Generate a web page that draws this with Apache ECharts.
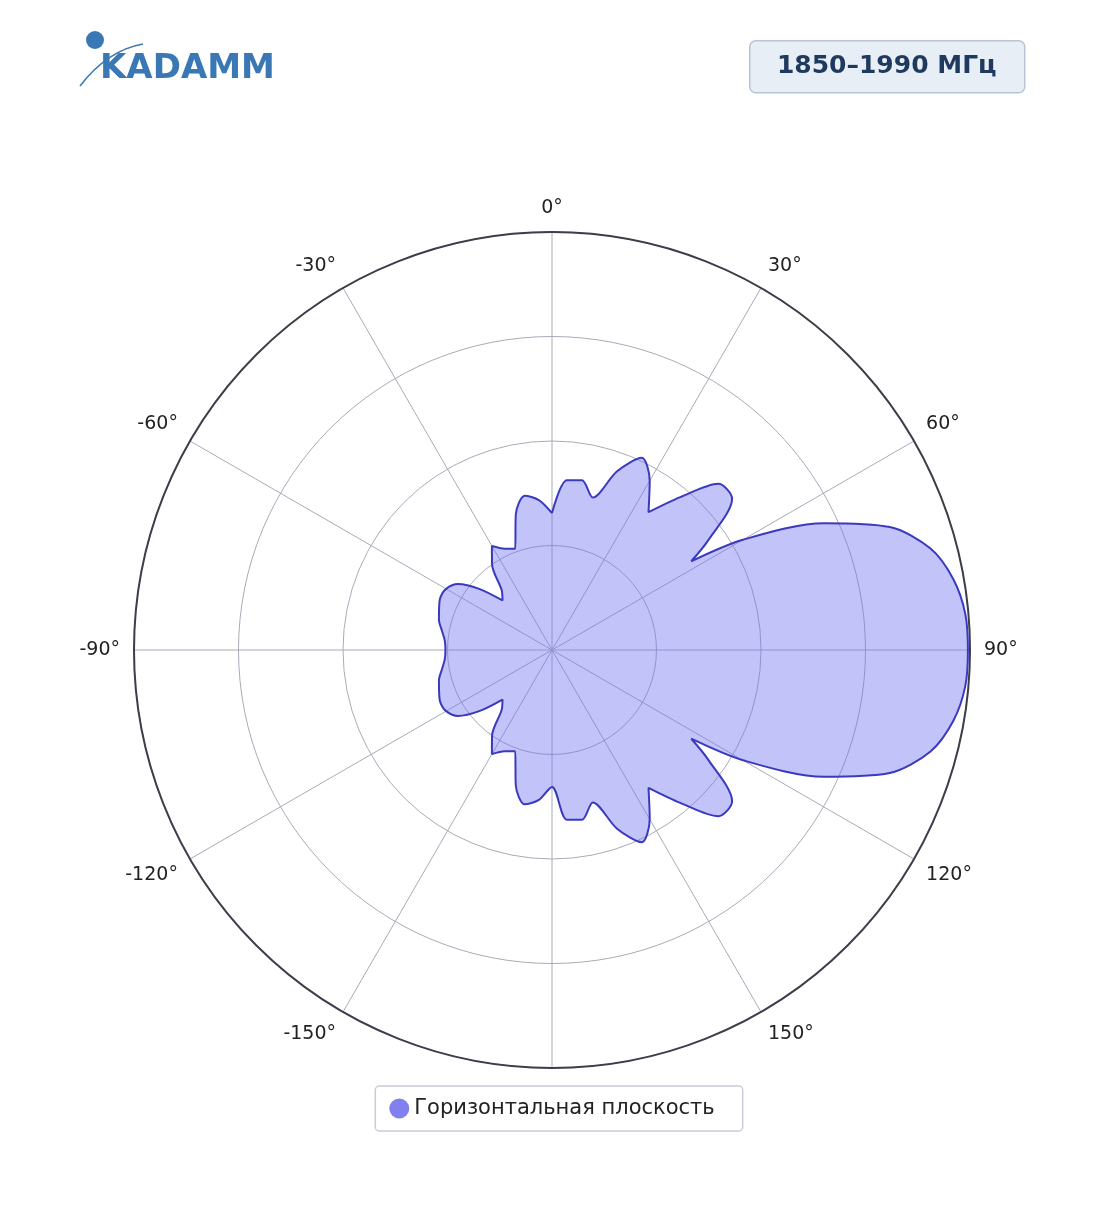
<!DOCTYPE html>
<html><head><meta charset="utf-8">
<script src="https://cdn.jsdelivr.net/npm/echarts@6/dist/echarts.min.js"></script>
<style>html,body{margin:0;padding:0;background:#fff}#c{width:1104px;height:1211px}</style>
</head><body><div id="c"></div>
<script>
// right half (clockwise from north, 0..90), mirrored about 90° axis
const rightAngles = [0,5,10,15,20,25,30,35,40,45,50,55,57.5,60,65,70,75,80,85,90];
const rightValues = [13.1,16.3,16.5,15.1,18.2,20.3,18.7,16.1,19.1,22.5,22.5,18.2,15.8,21.1,28.7,34.4,37.5,39.0,39.7,39.8];
// left half (counter-clockwise from north, 0..-90)
const leftAngles = [0,-5,-10,-15,-20,-25,-30,-35,-40,-45,-50,-55,-60,-65,-70,-75,-80,-85,-90];
const leftValues = [13.1,14.4,15.0,13.4,10.3,10.7,11.5,10.0,7.5,6.7,9.1,11.0,11.7,11.8,11.5,11.2,10.7,10.3,10.2];
const tickStep = 30;
const ringMax = 40, ringStep = 10;

const pts = [];
for (let i=0;i<rightAngles.length;i++) pts.push([rightValues[i], rightAngles[i]]);
for (let i=rightAngles.length-2;i>=0;i--) pts.push([rightValues[i], 180-rightAngles[i]]);
for (let i=1;i<leftAngles.length;i++) pts.push([leftValues[i], 180-leftAngles[i]]);
for (let i=leftAngles.length-2;i>=0;i--) pts.push([leftValues[i], 360+leftAngles[i]]);

const chart = echarts.init(document.getElementById('c'));
chart.setOption({
  animation:false,
  textStyle:{fontFamily:'DejaVu Sans'},
  polar:{center:[552,650], radius:418},
  angleAxis:{type:'value', min:0, max:360, interval:tickStep, startAngle:90, clockwise:true,
    axisLine:{lineStyle:{color:'#3c3f4a', width:2}},
    axisTick:{show:false},
    axisLabel:{fontSize:19, color:'#222', margin:14,
      formatter:v=> (v===360||v===180)? '' : (v>180? (v-360)+'°' : v+'°')},
    splitLine:{show:true, lineStyle:{color:'#a8aab8', width:1}}},
  radiusAxis:{min:0, max:ringMax, interval:ringStep, axisLine:{show:false}, axisTick:{show:false}, axisLabel:{show:false},
    splitLine:{show:true, lineStyle:{color:'#a8aab8', width:1}}},
  legend:{bottom:80, left:'center', itemWidth:20, itemHeight:20, icon:'circle',
    borderColor:'#c8ccd8', borderWidth:1.5, borderRadius:4, padding:[12,28,12,14],
    textStyle:{fontSize:21, color:'#222', fontFamily:'DejaVu Sans'}, data:['Горизонтальная плоскость']},
  series:[{type:'line', name:'Горизонтальная плоскость', coordinateSystem:'polar', data:pts, smooth:0.3, symbol:'none',
    itemStyle:{color:'#8080ee', borderColor:'#3a3abf'},
    lineStyle:{color:'#3a3abf', width:2}, areaStyle:{color:'rgba(115,118,238,0.62)'}}],
  graphic:[
    {type:'group', left:749, top:40, children:[
      {type:'rect', shape:{x:0,y:0,width:275,height:52,r:6}, style:{fill:'#e8eef6', stroke:'#b8c4d6', lineWidth:1.5}},
      {type:'text', style:{x:137,y:26, text:'1850–1990 МГц', fill:'#1f3a5f', font:'bold 25px DejaVu Sans', align:'center', verticalAlign:'middle'}}
    ]},
    {type:'text', left:100, top:52, style:{text:'KADAMM', fill:'#3a78b5', font:'bold 34px DejaVu Sans'}},
    {type:'circle', shape:{cx:95,cy:40,r:9}, style:{fill:'#3a78b5'}},
    {type:'bezierCurve', shape:{x1:80,y1:86,x2:143,y2:44,cpx1:100,cpy1:60,cpx2:120,cpy2:48}, style:{stroke:'#3a78b5', lineWidth:1.5, fill:null}}
  ]
});
</script></body></html>
